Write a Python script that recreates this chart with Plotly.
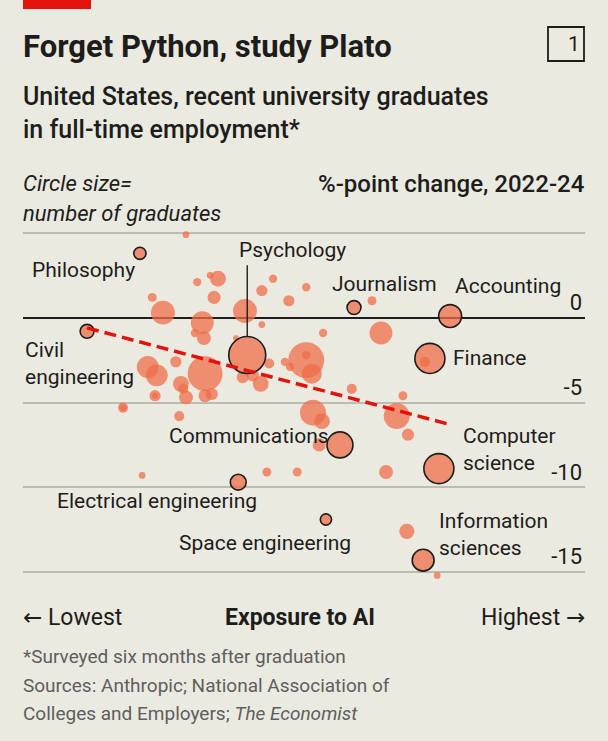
import plotly.graph_objects as go

# labelled subjects: exposure to AI (0-100, lowest -> highest),
# %-point change in full-time employment 2022-24, graduates ('000)
named_subjects = [
    "Philosophy", "Civil engineering", "Psychology", "Journalism", "Accounting",
    "Finance", "Communications", "Computer science", "Electrical engineering",
    "Space engineering", "Information sciences",
]
named_exposure = [20.8, 11.4, 39.9, 58.9, 76.0, 72.4, 56.4, 74.0, 38.3, 53.9, 71.2]
named_change = [3.8, -0.8, -2.2, 0.6, 0.1, -2.4, -7.5, -8.9, -9.7, -11.9, -14.3]
named_graduates = [13, 17, 120, 17, 46, 79, 59, 79, 22, 11, 42]

# all other subjects
other_exposure = [
    29.0, 34.7, 31.0, 33.3, 23.0, 34.0, 24.9, 31.9, 32.2, 30.6, 39.5, 42.5, 42.5, 37.9,
    44.5, 47.3, 50.4, 62.1, 53.4, 63.7, 50.4, 50.4, 51.4, 43.8, 46.6, 47.5, 22.2, 23.8,
    27.2, 32.4, 28.1, 29.0, 28.5, 23.5, 23.5, 32.4, 33.6, 17.8, 17.8, 27.8, 39.1, 40.9,
    42.3, 58.5, 67.6, 51.6, 53.2, 52.7, 66.5, 68.5, 43.4, 48.8, 64.6, 68.3, 73.7, 21.2,
    71.5,
]
other_change = [
    4.9, 2.3, 2.1, 2.5, 1.2, 1.2, 0.3, -0.3, -1.2, -0.9, 0.4, 1.6, -0.4, -1.2,
    2.3, 1.0, 1.8, 1.0, -0.9, -0.9, -2.5, -2.2, -3.3, -2.7, -2.6, -2.9, -2.9, -3.4,
    -2.6, -3.3, -3.9, -4.7, -4.2, -4.6, -4.6, -4.6, -4.5, -5.3, -5.3, -5.8, -3.5, -3.4,
    -3.9, -4.2, -4.6, -5.6, -6.1, -7.5, -5.8, -6.9, -9.1, -9.1, -9.1, -12.6, -15.2, -9.3,
    -2.6,
]
other_graduates = [
    4, 22, 6, 4, 7, 15, 50, 46, 17, 6, 50, 11, 4, 3,
    6, 11, 6, 7, 6, 46, 113, 6, 35, 9, 6, 6, 42, 42,
    11, 107, 22, 17, 9, 11, 3, 15, 13, 9, 4, 9, 13, 13,
    22, 9, 7, 59, 22, 15, 59, 13, 7, 7, 17, 20, 4, 4,
    9,
]

# fitted trend
trend_exposure = [11.4, 76.0]
trend_change = [-0.6, -6.3]

y_ticks = [5, 0, -5, -10, -15]

BG = "#ebeae1"
INK = "#1d1d1b"
GREY = "#5e5e5e"
BUBBLE = "rgba(239,109,72,0.75)"
FONT = "Roboto"
ARROW = "<span style=\"font-family:'DejaVu Sans'\">%s</span>"

W, H = 608, 741
L, R = 23, 585
TOP, BOTTOM = 216, 589


def px(x):
    return (x - L) / (R - L)


def py(y):
    return (BOTTOM - y) / (BOTTOM - TOP)


sizeref = 2 * 120 / 37 ** 2

fig = go.Figure()

fig.add_trace(go.Scatter(
    x=other_exposure, y=other_change, mode="markers",
    marker=dict(size=other_graduates, sizemode="area", sizeref=sizeref, opacity=1,
                color=BUBBLE, line=dict(width=0)),
    hoverinfo="skip",
))

fig.add_trace(go.Scatter(
    x=named_exposure, y=named_change, mode="markers", text=named_subjects,
    marker=dict(size=named_graduates, sizemode="area", sizeref=sizeref, opacity=1,
                color=BUBBLE, line=dict(width=1.6, color=INK)),
))

fig.add_trace(go.Scatter(
    x=trend_exposure, y=trend_change, mode="lines",
    line=dict(color="#e3120b", width=3.5, dash="12px,6px"),
))

# Psychology pointer
fig.add_shape(type="line", x0=39.9, x1=39.9, y0=3.1, y1=-1.1,
              line=dict(color=INK, width=1.4))

# subject labels: (text, x, y, xanchor)
labels = [
    ("Philosophy", 20.3, 2.8, "right"),
    ("Psychology", 38.1, 4.0, "left"),
    ("Journalism", 54.6, 2.0, "left"),
    ("Accounting", 76.6, 1.9, "left"),
    ("Civil<br>engineering", 0.0, -2.7, "left"),
    ("Finance", 76.2, -2.4, "left"),
    ("Communications", 25.6, -7.0, "left"),
    ("Computer<br>science", 77.9, -7.8, "left"),
    ("Electrical engineering", 5.7, -10.8, "left"),
    ("Space engineering", 27.4, -13.3, "left"),
    ("Information<br>sciences", 73.7, -12.8, "left"),
]
for text, x, y, anchor in labels:
    fig.add_annotation(x=x, y=y, text=text, showarrow=False, xanchor=anchor,
                       yanchor="middle", align="left",
                       font=dict(family=FONT, size=21, color=INK))


def note(text, x, y, size, anchor="left", color=INK, weight="normal", style="normal"):
    fig.add_annotation(xref="paper", yref="paper", x=px(x), y=py(y), text=text,
                       showarrow=False, xanchor=anchor, yanchor="middle", align="left",
                       font=dict(family=FONT, size=size, color=color, weight=weight, style=style))


note("Forget Python, study Plato", 21, 47, 31, weight="bold")
note("United States, recent university graduates", 21, 96, 25, weight=500)
note("in full-time employment*", 21, 129, 25, weight=500)
note("Circle size=", 21, 184, 22, style="italic")
note("number of graduates", 21, 213, 22, style="italic")
note("%-point change, 2022-24", 587, 184, 24, anchor="right", weight=500)
note("1", 566, 44, 21)
note(ARROW % "\u2190" + " Lowest", 21, 617, 23)
note("<b>Exposure to AI</b>", 300, 617, 23, anchor="center")
note("Highest " + ARROW % "\u2192", 587, 617, 23, anchor="right")
note("*Surveyed six months after graduation", 21, 656, 19, color=GREY)
note("Sources: Anthropic; National Association of", 21, 685, 19, color=GREY)
note("Colleges and Employers; <i>The Economist</i>", 21, 713, 19, color=GREY)

# red tag and chart number box
fig.add_shape(type="rect", xref="paper", yref="paper", x0=px(23), x1=px(91),
              y0=py(0), y1=py(9), fillcolor="#e3120b", line=dict(width=0))
fig.add_shape(type="rect", xref="paper", yref="paper", x0=px(548), x1=px(584),
              y0=py(27), y1=py(61), fillcolor="rgba(0,0,0,0)",
              line=dict(color=INK, width=1.8))

fig.update_layout(
    width=W, height=H,
    margin=dict(l=L, r=W - R, t=TOP, b=H - BOTTOM),
    paper_bgcolor=BG, plot_bgcolor=BG,
    showlegend=False,
    font=dict(family=FONT, color=INK),
)
fig.update_xaxes(range=[0, 100], showgrid=False, zeroline=False,
                 showticklabels=False, showline=False, ticks="")
fig.update_yaxes(range=[-16, 6], tickvals=y_ticks, ticktext=[str(v) for v in y_ticks],
                 side="right", ticklabelposition="inside top",
                 showgrid=True, gridcolor="#bcbcb4", gridwidth=1.6,
                 zeroline=True, zerolinecolor=INK, zerolinewidth=1.8,
                 showline=False, ticks="",
                 tickfont=dict(family=FONT, size=22, color=INK))

fig.write_html("out.html", config={"displayModeBar": False},
               post_script="document.body.style.margin = '0';")
